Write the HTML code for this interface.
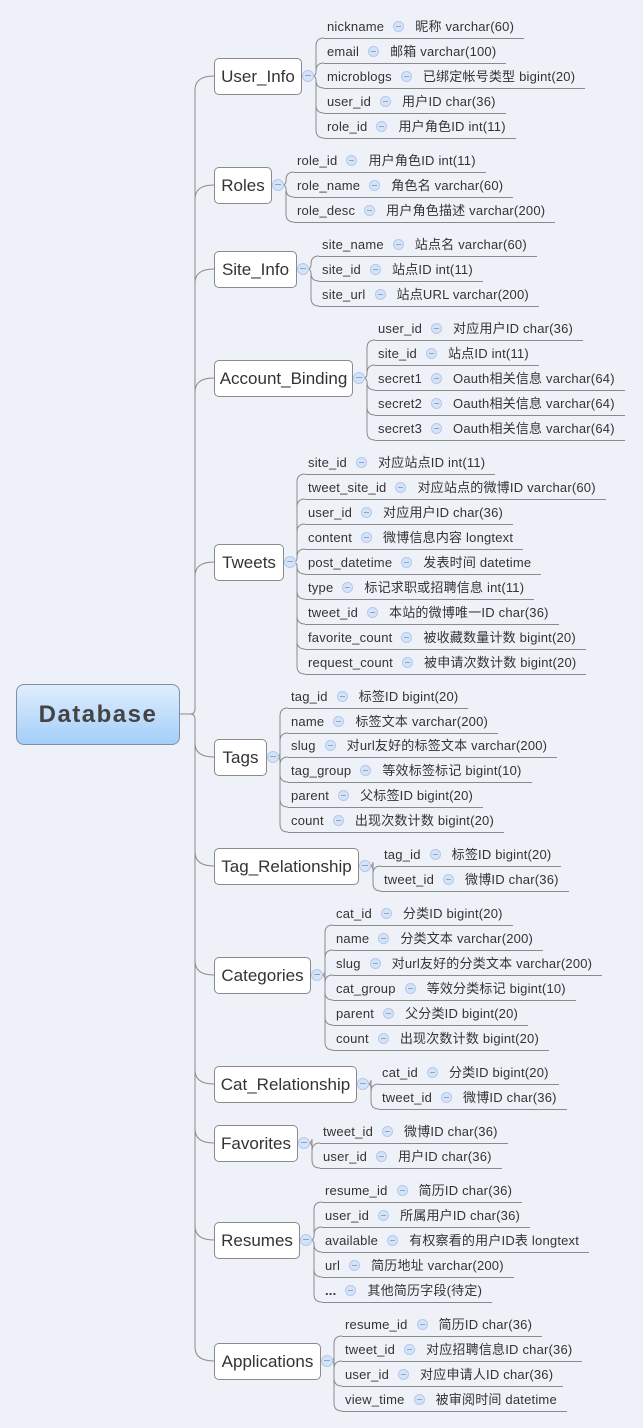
<!DOCTYPE html>
<html><head><meta charset="utf-8"><style>
html,body{margin:0;padding:0}
body{width:643px;height:1428px;background:#eff1f8;position:relative;overflow:hidden;font-family:"Liberation Sans","Noto Sans CJK SC",sans-serif;color:#333}
svg{position:absolute;left:0;top:0}
.b{position:absolute;height:37px;line-height:36px;background:#fff;border:1px solid #8a8a8a;border-radius:5px;font-size:17px;padding:0;text-align:center;box-sizing:border-box;color:#333;white-space:nowrap}
.l{position:absolute;height:25px;line-height:26px;font-size:13px;padding:0 10px 0 3px;border-bottom:1px solid #8a8a8a;white-space:nowrap;letter-spacing:0.2px;box-sizing:border-box}
.l i{display:inline-block;width:9px;height:9px;border-radius:50%;background:#d5e3f6;border:1px solid #b3c9ea;margin:0 11px 0 9px;vertical-align:-1px;position:relative}
.l i:after{content:"";position:absolute;left:2px;right:2px;top:4px;height:1px;background:#8aa6d0}
.c{position:absolute;width:10px;height:10px;border-radius:50%;background:#d5e3f6;border:1px solid #b3c9ea}
.c:after{content:"";position:absolute;left:2px;right:2px;top:4px;height:1px;background:#8aa6d0}
#db{position:absolute;left:16px;top:684px;width:164px;height:61px;box-sizing:border-box;border:1px solid #7e8fa6;border-radius:8px;background:linear-gradient(#e0eefd,#a3cef9);font-size:24px;font-weight:bold;letter-spacing:1.5px;text-align:center;line-height:59px;color:#444}
</style></head><body>
<svg id="s" width="643" height="1428"></svg>
<div id="db">Database</div>

<div class="b" style="left:214px;top:58px;width:88px">User_Info</div>
<div class="b" style="left:214px;top:167px;width:58px">Roles</div>
<div class="b" style="left:214px;top:251px;width:83px">Site_Info</div>
<div class="b" style="left:214px;top:360px;width:139px">Account_Binding</div>
<div class="b" style="left:214px;top:544px;width:70px">Tweets</div>
<div class="b" style="left:214px;top:739px;width:53px">Tags</div>
<div class="b" style="left:214px;top:848px;width:145px">Tag_Relationship</div>
<div class="b" style="left:214px;top:957px;width:97px">Categories</div>
<div class="b" style="left:214px;top:1066px;width:143px">Cat_Relationship</div>
<div class="b" style="left:214px;top:1125px;width:84px">Favorites</div>
<div class="b" style="left:214px;top:1222px;width:86px">Resumes</div>
<div class="b" style="left:214px;top:1343px;width:107px">Applications</div>

<div class="l" style="left:324px;top:14px">nickname<i></i>昵称 varchar(60)</div>
<div class="l" style="left:324px;top:39px">email<i></i>邮箱 varchar(100)</div>
<div class="l" style="left:324px;top:64px">microblogs<i></i>已绑定帐号类型 bigint(20)</div>
<div class="l" style="left:324px;top:89px">user_id<i></i>用户ID char(36)</div>
<div class="l" style="left:324px;top:114px">role_id<i></i>用户角色ID int(11)</div>

<div class="l" style="left:294px;top:148px">role_id<i></i>用户角色ID int(11)</div>
<div class="l" style="left:294px;top:173px">role_name<i></i>角色名 varchar(60)</div>
<div class="l" style="left:294px;top:198px">role_desc<i></i>用户角色描述 varchar(200)</div>

<div class="l" style="left:319px;top:232px">site_name<i></i>站点名 varchar(60)</div>
<div class="l" style="left:319px;top:257px">site_id<i></i>站点ID int(11)</div>
<div class="l" style="left:319px;top:282px">site_url<i></i>站点URL varchar(200)</div>

<div class="l" style="left:375px;top:316px">user_id<i></i>对应用户ID char(36)</div>
<div class="l" style="left:375px;top:341px">site_id<i></i>站点ID int(11)</div>
<div class="l" style="left:375px;top:366px">secret1<i></i>Oauth相关信息 varchar(64)</div>
<div class="l" style="left:375px;top:391px">secret2<i></i>Oauth相关信息 varchar(64)</div>
<div class="l" style="left:375px;top:416px">secret3<i></i>Oauth相关信息 varchar(64)</div>

<div class="l" style="left:305px;top:450px">site_id<i></i>对应站点ID int(11)</div>
<div class="l" style="left:305px;top:475px">tweet_site_id<i></i>对应站点的微博ID varchar(60)</div>
<div class="l" style="left:305px;top:500px">user_id<i></i>对应用户ID char(36)</div>
<div class="l" style="left:305px;top:525px">content<i></i>微博信息内容 longtext</div>
<div class="l" style="left:305px;top:550px">post_datetime<i></i>发表时间 datetime</div>
<div class="l" style="left:305px;top:575px">type<i></i>标记求职或招聘信息 int(11)</div>
<div class="l" style="left:305px;top:600px">tweet_id<i></i>本站的微博唯一ID char(36)</div>
<div class="l" style="left:305px;top:625px">favorite_count<i></i>被收藏数量计数 bigint(20)</div>
<div class="l" style="left:305px;top:650px">request_count<i></i>被申请次数计数 bigint(20)</div>

<div class="l" style="left:288px;top:684px">tag_id<i></i>标签ID bigint(20)</div>
<div class="l" style="left:288px;top:709px">name<i></i>标签文本 varchar(200)</div>
<div class="l" style="left:288px;top:733px">slug<i></i>对url友好的标签文本 varchar(200)</div>
<div class="l" style="left:288px;top:758px">tag_group<i></i>等效标签标记 bigint(10)</div>
<div class="l" style="left:288px;top:783px">parent<i></i>父标签ID bigint(20)</div>
<div class="l" style="left:288px;top:808px">count<i></i>出现次数计数 bigint(20)</div>

<div class="l" style="left:381px;top:842px">tag_id<i></i>标签ID bigint(20)</div>
<div class="l" style="left:381px;top:867px">tweet_id<i></i>微博ID char(36)</div>

<div class="l" style="left:333px;top:901px">cat_id<i></i>分类ID bigint(20)</div>
<div class="l" style="left:333px;top:926px">name<i></i>分类文本 varchar(200)</div>
<div class="l" style="left:333px;top:951px">slug<i></i>对url友好的分类文本 varchar(200)</div>
<div class="l" style="left:333px;top:976px">cat_group<i></i>等效分类标记 bigint(10)</div>
<div class="l" style="left:333px;top:1001px">parent<i></i>父分类ID bigint(20)</div>
<div class="l" style="left:333px;top:1026px">count<i></i>出现次数计数 bigint(20)</div>

<div class="l" style="left:379px;top:1060px">cat_id<i></i>分类ID bigint(20)</div>
<div class="l" style="left:379px;top:1085px">tweet_id<i></i>微博ID char(36)</div>

<div class="l" style="left:320px;top:1119px">tweet_id<i></i>微博ID char(36)</div>
<div class="l" style="left:320px;top:1144px">user_id<i></i>用户ID char(36)</div>

<div class="l" style="left:322px;top:1178px">resume_id<i></i>简历ID char(36)</div>
<div class="l" style="left:322px;top:1203px">user_id<i></i>所属用户ID char(36)</div>
<div class="l" style="left:322px;top:1228px">available<i></i>有权察看的用户ID表 longtext</div>
<div class="l" style="left:322px;top:1253px">url<i></i>简历地址 varchar(200)</div>
<div class="l" style="left:322px;top:1278px"><b>...</b><i></i>其他简历字段(待定)</div>

<div class="l" style="left:342px;top:1312px">resume_id<i></i>简历ID char(36)</div>
<div class="l" style="left:342px;top:1337px">tweet_id<i></i>对应招聘信息ID char(36)</div>
<div class="l" style="left:342px;top:1362px">user_id<i></i>对应申请人ID char(36)</div>
<div class="l" style="left:342px;top:1387px">view_time<i></i>被审阅时间 datetime</div>

<script>
var T=[[76,301,327,[26,51,76,101,126]],[185,271,297,[160,185,210]],[269,296,322,[244,269,294]],
[378,352,378,[328,353,378,403,428]],[562,283,308,[462,487,512,537,562,587,612,637,662]],
[757,266,291,[696,721,745,770,795,820]],[866,358,384,[854,879]],[975,310,336,[913,938,963,988,1013,1038]],
[1084,356,382,[1072,1097]],[1143,297,323,[1131,1156]],[1240,299,325,[1190,1215,1240,1265,1290]],
[1361,320,345,[1324,1349,1374,1399]]];
var d="",h="";
T.forEach(function(t){
 var cy=t[0],r=t[1],lx=t[2],cx=r+7,s=lx-11;
 h+='<div class="c" style="left:'+(cx-6)+'px;top:'+(cy-6)+'px"></div>';
 t[3].forEach(function(y){var u=y+12,g=u>cy?1:-1;
  d+="M"+(cx+6)+","+cy+" L"+(s-4)+","+cy+" Q"+s+","+cy+" "+s+","+(cy+g*4)+" L"+s+","+(u-g*8)+" Q"+s+","+u+" "+(lx-3)+","+u+" ";});
 var g=cy>714?1:-1;
 d+="M180,714 L190,714 Q195,714 195,"+(714+g*5)+" L195,"+(cy-g*14)+" Q195,"+cy+" 214,"+cy+" ";
});
document.getElementById("s").innerHTML='<path d="'+d+'" fill="none" stroke="#8a8a8a" stroke-width="1"/>';
document.body.insertAdjacentHTML("beforeend",h);
</script>
</body></html>
